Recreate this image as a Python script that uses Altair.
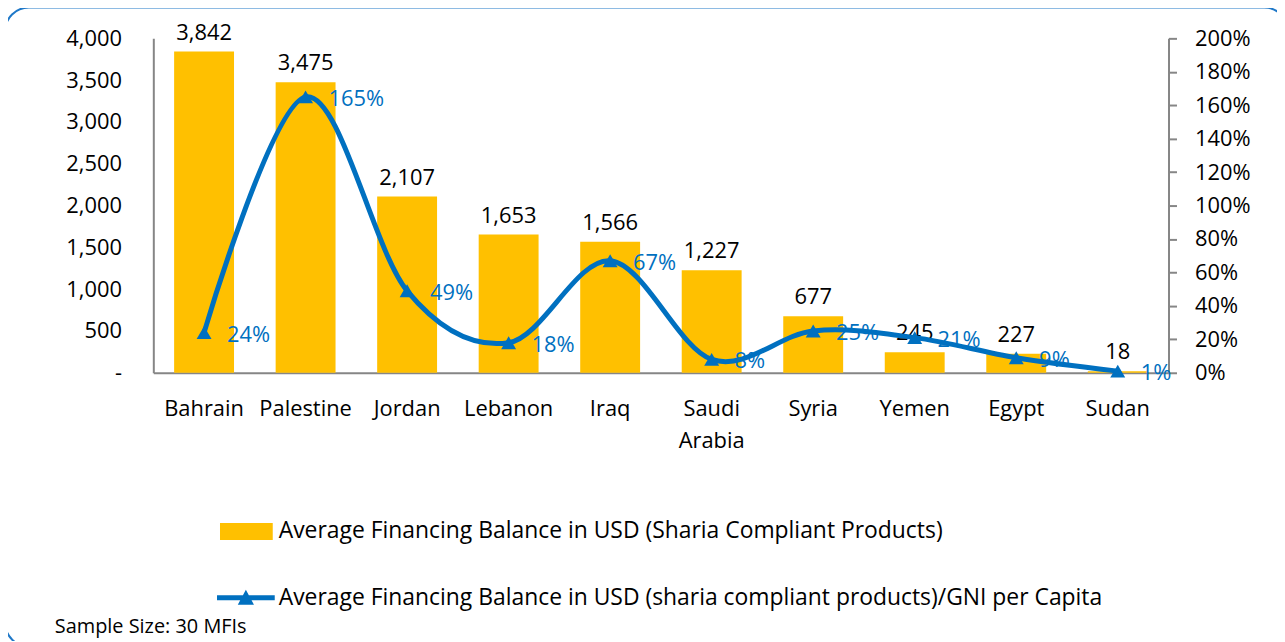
import altair as alt
import pandas as pd

countries = ["Bahrain", "Palestine", "Jordan", "Lebanon", "Iraq",
             "Saudi Arabia", "Syria", "Yemen", "Egypt", "Sudan"]
balance = [3842, 3475, 2107, 1653, 1566, 1227, 677, 245, 227, 18]
ratio = [0.24, 1.65, 0.49, 0.18, 0.67, 0.08, 0.25, 0.21, 0.09, 0.01]
bar_series = "Average Financing Balance in USD (Sharia Compliant Products)"
line_series = "Average Financing Balance in USD (sharia compliant products)/GNI per Capita"
left_ticks = [0, 500, 1000, 1500, 2000, 2500, 3000, 3500, 4000]
right_ticks = [0, 0.2, 0.4, 0.6, 0.8, 1.0, 1.2, 1.4, 1.6, 1.8, 2.0]
note_text = "Sample Size: 30 MFIs"

df = pd.DataFrame({
    "country": countries,
    "balance": balance,
    "ratio": ratio,
    "bar_series": bar_series,
    "line_series": line_series,
})

FONT = "Open Sans"
GOLD = "#FFC000"
BLUE = "#0070C0"
GRAY = "#868686"

x = alt.X(
    "country:N", sort=countries, title=None,
    scale=alt.Scale(paddingInner=0.41, paddingOuter=0.205),
    axis=alt.Axis(labelAngle=0, ticks=False, domainColor=GRAY, domainWidth=2,
                  labelPadding=26, labelFontSize=22, labelFont=FONT,
                  labelColor="black", labelLineHeight=32, grid=False,
                  labelExpr="datum.value == 'Saudi Arabia' ? ['Saudi', 'Arabia'] : datum.value"),
)

y_left = alt.Y(
    "balance:Q", title=None, scale=alt.Scale(domain=[0, 4000]),
    axis=alt.Axis(values=left_ticks, ticks=False, domainColor=GRAY, domainWidth=2,
                  labelPadding=32, labelFontSize=22, labelFont=FONT, labelColor="black",
                  grid=False,
                  labelExpr="datum.value == 0 ? '-' : format(datum.value, ',')"),
)

y_right = alt.Y(
    "ratio:Q", title=None, scale=alt.Scale(domain=[0, 2]),
    axis=alt.Axis(orient="right", values=right_ticks, format=".0%", tickSize=8,
                  tickColor=GRAY, tickWidth=2, domainColor=GRAY, domainWidth=2,
                  labelPadding=18, labelFontSize=22, labelFont=FONT, labelColor="black",
                  grid=False),
)

bar_path = "M-1,-0.32H1V0.32H-1Z"
line_path = "M-1,-0.086H1V0.086H-1Z M-0.28,0.24L0,-0.28L0.28,0.24Z"

bars = alt.Chart(df).mark_bar().encode(
    x=x, y=y_left,
    fill=alt.Fill("bar_series:N", scale=alt.Scale(range=[GOLD]),
                  legend=alt.Legend(title=None, orient="none", legendX=67, legendY=469,
                                    symbolType=bar_path, symbolSize=2809,
                                    symbolStrokeWidth=0, labelFontSize=23,
                                    labelFont=FONT, labelColor="black", labelLimit=1200,
                                    padding=0, labelOffset=6)),
)
bar_text = alt.Chart(df).mark_text(baseline="alphabetic", dy=-12, fontSize=22,
                                   font=FONT, color="black").encode(
    x=x, y=y_left, text=alt.Text("balance:Q", format=","),
)
left = alt.layer(bars, bar_text)

line_text = alt.Chart(df).mark_text(align="left", baseline="middle", dx=23, dy=2,
                                    fontSize=22, font=FONT, color=BLUE).encode(
    x=x, y=y_right, text=alt.Text("ratio:Q", format=".0%"),
)
line = alt.Chart(df).mark_line(color=BLUE, strokeWidth=5, interpolate="cardinal").encode(
    x=x, y=y_right,
)
points = alt.Chart(df).mark_point(shape="triangle-up", filled=True, size=225, opacity=1).encode(
    x=x, y=y_right,
    fill=alt.Fill("line_series:N", scale=alt.Scale(range=[BLUE]),
                  legend=alt.Legend(title=None, orient="none", legendX=64, legendY=533,
                                    symbolType=line_path, symbolSize=3364,
                                    symbolStrokeWidth=0, labelFontSize=23,
                                    labelFont=FONT, labelColor="black", labelLimit=1200,
                                    padding=0, labelOffset=4)),
)
right = alt.layer(line_text, line, points)

deco = pd.DataFrame({"note": [note_text]})
border = alt.Chart(deco).mark_rect(cornerRadius=24, fillOpacity=0, stroke="#1F78C8",
                                   strokeWidth=2).encode(
    x=alt.value(-149), x2=alt.value(1140), y=alt.value(-31), y2=alt.value(611),
)
note = alt.Chart(deco).mark_text(align="left", baseline="middle", fontSize=20,
                                 font=FONT, color="black").encode(
    x=alt.value(-99), y=alt.value(591), text="note:N",
)

chart = alt.layer(left, right, border, note).resolve_scale(
    y="independent", fill="independent"
).properties(
    width=1020, height=336,
    autosize=alt.AutoSizeParams(type="none"),
    padding={"left": 146, "top": 29, "right": 109, "bottom": 268},
    background="white",
).configure_view(stroke=None)

chart.save("out.html", embed_options={"renderer": "svg", "actions": False})
